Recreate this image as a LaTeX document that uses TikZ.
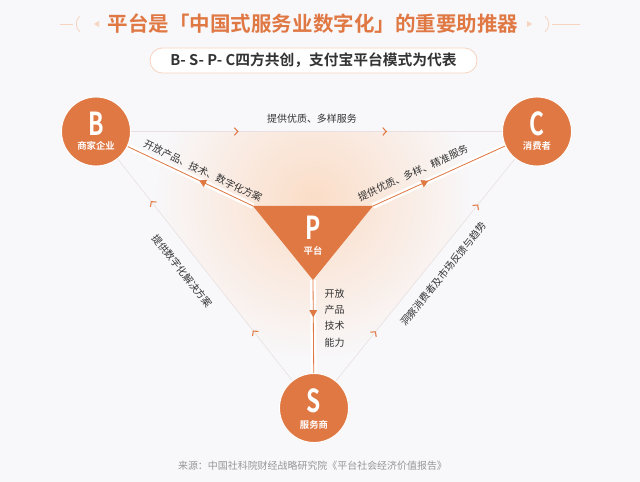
\documentclass[tikz,border=0pt]{standalone}
\usepackage{fontspec}
\setmainfont{Noto Sans CJK SC}[BoldFont=* Bold]
\usepackage{graphicx}
\usetikzlibrary{decorations.markings,arrows.meta}
\definecolor{brandorange}{RGB}{224,120,68}
\definecolor{bgcol}{RGB}{248,248,251}
\definecolor{glow}{RGB}{251,221,199}
\definecolor{textgray}{RGB}{51,51,51}
\definecolor{linegray}{RGB}{232,224,224}
\definecolor{notegray}{RGB}{150,150,150}
\definecolor{palepeach}{RGB}{246,212,192}

\tikzset{
  party/.style={circle,fill=brandorange,draw=white,line width=0.8pt,minimum size=2.07cm,inner sep=0pt},
  bigletter/.style={text=white,inner sep=0pt,font=\bfseries\fontsize{27}{27}\selectfont},
  partyname/.style={text=white,inner sep=0pt,font=\bfseries\fontsize{8}{9}\selectfont},
  flowlabel/.style={text=textgray,inner sep=0pt,font=\fontsize{8.5}{10}\selectfont},
  faintlink/.style={draw=linegray,line width=0.5pt},
  band/.style={draw=white,line width=5pt},
  flow/.style={draw=brandorange,line width=0.7pt},
  midarrow/.style={postaction={decorate,decoration={markings,
    mark=at position #1 with {\arrow[brandorange]{Triangle[length=6pt,width=6.5pt]}}}}},
  chevrons/.style 2 args={postaction={decorate,decoration={markings,
    mark=at position #1 with {\arrow[brandorange,line width=0.9pt]{Straight Barb[length=3pt,width=6.5pt]}},
    mark=at position #2 with {\arrow[brandorange,line width=0.9pt]{Straight Barb[length=3pt,width=6.5pt]}}}}}
}

\begin{document}
\begin{tikzpicture}[x=0.03cm,y=-0.03cm]

\fill[bgcol] (0,0) rectangle (640,482);
\useasboundingbox (0,0) rectangle (640,482);

% glow behind the platform
\begin{scope}
\clip (96,131.5) -- (537,131.5) -- (314,408) -- cycle;
\shade[inner color=glow, outer color=bgcol] (313,200) circle (165);
\end{scope}

% title
\draw[palepeach, line width=0.7pt] (60,24) -- (73,24);
\draw[palepeach, line width=0.7pt] (552,24) -- (580,24);
\draw[palepeach, line width=0.7pt] (80,16) .. controls (75,20) and (75,28) .. (80,32);
\draw[palepeach, line width=0.7pt] (545,16) .. controls (550,20) and (550,28) .. (545,32);
\fill[palepeach] (94,24) -- (99,21) -- (99,27) -- cycle;
\fill[palepeach] (532,24) -- (527,21) -- (527,27) -- cycle;
\node[text=brandorange, font=\bfseries\fontsize{17.5}{20}\selectfont] (title) at (313,24)
  {平台是「中国式服务业数字化」的重要助推器};
\node[draw=palepeach, fill=white, line width=0.7pt, rounded corners=0.37cm,
  minimum width=9.81cm, minimum height=0.75cm, text=textgray,
  font=\bfseries\fontsize{12.6}{14}\selectfont] (subtitle) at (313.5,60.5)
  {B- S- P- C四方共创，支付宝平台模式为代表};

% parties
\node[party] (B) at (96,131.5) {};
\node[party] (C) at (537,131.5) {};
\node[party] (S) at (314,408) {};
\coordinate (Pl) at (253,206);
\coordinate (Pr) at (373,206);
\coordinate (Pb) at (313,280);

% faint links
\draw[faintlink, chevrons={0.29}{0.69}] (B) -- (C);
\draw[faintlink, chevrons={0.226}{0.81}] (S) -- (B);
\draw[faintlink, chevrons={0.223}{0.794}] (S) -- (C);

% platform flows
\draw[band] (Pl) -- (B);
\draw[band] (Pr) -- (C);
\draw[band] (Pb) -- (S);
\draw[flow, midarrow=0.43] (Pl) -- (B);
\draw[flow, midarrow=0.42] (Pr) -- (C);
\draw[flow, midarrow=0.4] (Pb) -- (S);

\fill[brandorange] (Pl) -- (Pr) -- (Pb) -- cycle;
\node[bigletter] (P) at (313,227.5) {\scalebox{0.72}[1]{P}};
\node[partyname] (Pname) at (313,250.5) {平台};

\node[party] at (B) {};
\node[party] at (C) {};
\node[party] at (S) {};
\node[bigletter] (Bl) at (96,123.5) {\scalebox{0.72}[1]{B}};
\node[partyname] (Bname) at (96,146) {商家企业};
\node[bigletter] (Cl) at (537,123.5) {\scalebox{0.72}[1]{C}};
\node[partyname] (Cname) at (537,146) {消费者};
\node[bigletter] (Sl) at (314,401) {\scalebox{0.72}[1]{S}};
\node[partyname] (Sname) at (314,425) {服务商};

% labels
\node[flowlabel] (lbBC) at (312,119) {提供优质、多样服务};
\node[flowlabel, rotate=-25.4] (lbBP) at (203,171) {开放产品、技术、数字化方案};
\node[flowlabel, rotate=24.4] (lbPC) at (413,173) {提供优质、多样、精准服务};
\node[flowlabel, rotate=-51.7] (lbBS) at (182,271) {提供数字化解决方案};
\node[flowlabel, rotate=51.1] (lbCS) at (443,274) {洞察消费者及市场反馈与趋势};
\node[flowlabel, align=left, font=\fontsize{8.5}{14}\selectfont] (lbPS) at (334.5,318)
  {开放\\产品\\技术\\能力};

\node[text=notegray, font=\fontsize{8.5}{10}\selectfont] (source) at (312.5,466)
  {来源：中国社科院财经战略研究院《平台社会经济价值报告》};
\end{tikzpicture}
\end{document}
